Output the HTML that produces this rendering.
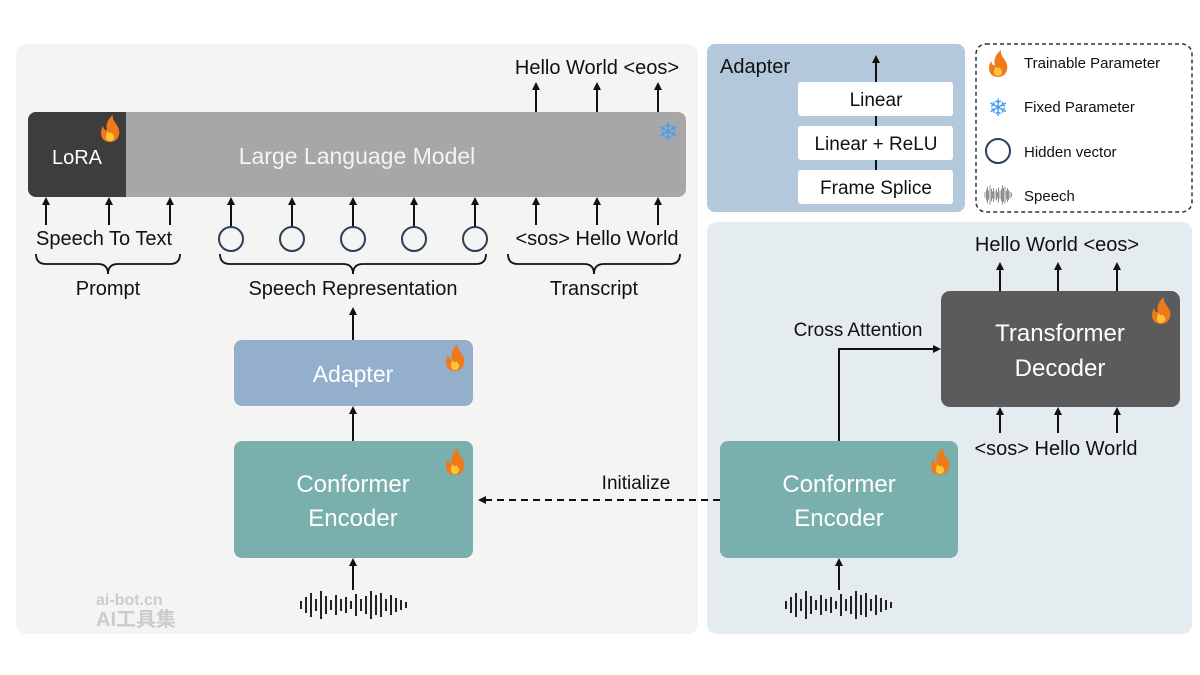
<!DOCTYPE html>
<html><head><meta charset="utf-8"><style>
body{margin:0;background:#fff}
svg{display:block;font-family:"Liberation Sans","DejaVu Sans",sans-serif}
</style></head><body>
<svg width="1200" height="675" viewBox="0 0 1200 675">
<defs>
<marker id="a" markerWidth="8" markerHeight="8" refX="6" refY="4" orient="auto" markerUnits="userSpaceOnUse"><path d="M0,0 L8,4 L0,8 z" fill="#111"/></marker>
<g id="fire"><path d="M0,14 C-9,14 -11,5 -7,-2 C-6,2 -4,3 -3,2 C-5,-4 -1,-10 3,-13 C2,-8 6,-5 8,-1 C11,4 9,14 0,14 z" fill="#f07a1a"/><path d="M0,13 C-5,13 -5,7 -2,3 C-1,6 1,6 1,4 C3,6 5,8 4,10 C3,12 2,13 0,13 z" fill="#fbc43b"/></g>
<g id="wave" stroke="#222" stroke-width="2">
<line x1="0" y1="-4" x2="0" y2="4"/><line x1="5" y1="-8" x2="5" y2="8"/><line x1="10" y1="-12" x2="10" y2="12"/><line x1="15" y1="-6" x2="15" y2="6"/><line x1="20" y1="-14" x2="20" y2="14"/><line x1="25" y1="-9" x2="25" y2="9"/><line x1="30" y1="-5" x2="30" y2="5"/><line x1="35" y1="-10" x2="35" y2="10"/><line x1="40" y1="-6" x2="40" y2="6"/><line x1="45" y1="-8" x2="45" y2="8"/><line x1="50" y1="-4" x2="50" y2="4"/><line x1="55" y1="-11" x2="55" y2="11"/><line x1="60" y1="-6" x2="60" y2="6"/><line x1="65" y1="-9" x2="65" y2="9"/><line x1="70" y1="-14" x2="70" y2="14"/><line x1="75" y1="-10" x2="75" y2="10"/><line x1="80" y1="-12" x2="80" y2="12"/><line x1="85" y1="-6" x2="85" y2="6"/><line x1="90" y1="-10" x2="90" y2="10"/><line x1="95" y1="-7" x2="95" y2="7"/><line x1="100" y1="-5" x2="100" y2="5"/><line x1="105" y1="-3" x2="105" y2="3"/>
</g>
</defs>
<!-- panels -->
<rect x="16" y="44" width="682" height="590" rx="10" fill="#f4f4f3"/>
<rect x="707" y="222" width="485" height="412" rx="10" fill="#e4ecf0"/>
<rect x="707" y="44" width="258" height="168" rx="8" fill="#b3c8da"/>
<rect x="976" y="44" width="216" height="168" rx="10" fill="#fff" stroke="#333" stroke-width="1.5" stroke-dasharray="4,3"/>

<!-- LLM -->
<rect x="28" y="112" width="658" height="85" rx="8" fill="#a7a7a7"/>
<path d="M36,112 H126 V197 H36 a8,8 0 0 1 -8,-8 V120 a8,8 0 0 1 8,-8 z" fill="#3d3d3d"/>
<text x="77" y="164" font-size="20" fill="#fff" text-anchor="middle">LoRA</text>
<use href="#fire" x="110" y="128"/>
<text x="357" y="164" font-size="23" fill="#f4f4f4" text-anchor="middle">Large Language Model</text>
<text x="668" y="140" font-size="24" fill="#4a9cf0" text-anchor="middle">❄</text>

<g stroke="#111" stroke-width="2" marker-end="url(#a)">
<line x1="46" y1="225" x2="46" y2="199"/><line x1="109" y1="225" x2="109" y2="199"/><line x1="170" y1="225" x2="170" y2="199"/>
<line x1="231" y1="227" x2="231" y2="199"/><line x1="292" y1="227" x2="292" y2="199"/><line x1="353" y1="227" x2="353" y2="199"/><line x1="414" y1="227" x2="414" y2="199"/><line x1="475" y1="227" x2="475" y2="199"/>
<line x1="536" y1="225" x2="536" y2="199"/><line x1="597" y1="225" x2="597" y2="199"/><line x1="658" y1="225" x2="658" y2="199"/>
<line x1="536" y1="112" x2="536" y2="84"/><line x1="597" y1="112" x2="597" y2="84"/><line x1="658" y1="112" x2="658" y2="84"/>
</g>
<g fill="none" stroke="#2d3e58" stroke-width="2">
<circle cx="231" cy="239" r="12"/><circle cx="292" cy="239" r="12"/><circle cx="353" cy="239" r="12"/><circle cx="414" cy="239" r="12"/><circle cx="475" cy="239" r="12"/>
</g>
<g font-size="20" fill="#111" text-anchor="middle">
<text x="597" y="74">Hello World &lt;eos&gt;</text>
<text x="104" y="245">Speech To  Text</text>
<text x="597" y="245">&lt;sos&gt; Hello World</text>
<text x="108" y="295">Prompt</text>
<text x="353" y="295">Speech Representation</text>
<text x="594" y="295">Transcript</text>
</g>
<g fill="none" stroke="#111" stroke-width="1.8">
<path d="M36,254 q0,10 10,10 h52 q10,0 10,10 q0,-10 10,-10 h52 q10,0 10,-10"/>
<path d="M220,254 q0,10 10,10 h113 q10,0 10,10 q0,-10 10,-10 h113 q10,0 10,-10"/>
<path d="M508,254 q0,10 10,10 h66 q10,0 10,10 q0,-10 10,-10 h66 q10,0 10,-10"/>
</g>

<!-- left stack -->
<rect x="234" y="340" width="239" height="66" rx="8" fill="#94afcb"/>
<text x="353" y="382" font-size="23" fill="#fff" text-anchor="middle">Adapter</text>
<use href="#fire" x="455" y="357"/>
<rect x="234" y="441" width="239" height="117" rx="8" fill="#79afad"/>
<text x="353" y="492" font-size="24" fill="#fff" text-anchor="middle">Conformer</text>
<text x="353" y="526" font-size="24" fill="#fff" text-anchor="middle">Encoder</text>
<use href="#fire" x="455" y="461"/>
<g stroke="#111" stroke-width="2" marker-end="url(#a)">
<line x1="353" y1="340" x2="353" y2="309"/>
<line x1="353" y1="441" x2="353" y2="408"/>
<line x1="353" y1="590" x2="353" y2="560"/>
<line x1="839" y1="590" x2="839" y2="560"/>
</g>
<use href="#wave" x="301" y="605"/>
<use href="#wave" x="786" y="605"/>

<!-- Initialize -->
<line x1="720" y1="500" x2="480" y2="500" stroke="#111" stroke-width="2" stroke-dasharray="7,5" marker-end="url(#a)"/>
<text x="636" y="489" font-size="19" fill="#111" text-anchor="middle">Initialize</text>

<!-- right -->
<rect x="720" y="441" width="238" height="117" rx="8" fill="#79afad"/>
<text x="839" y="492" font-size="24" fill="#fff" text-anchor="middle">Conformer</text>
<text x="839" y="526" font-size="24" fill="#fff" text-anchor="middle">Encoder</text>
<use href="#fire" x="940" y="461"/>
<rect x="941" y="291" width="239" height="116" rx="9" fill="#5b5b5b"/>
<text x="1060" y="341" font-size="24" fill="#fff" text-anchor="middle">Transformer</text>
<text x="1060" y="376" font-size="24" fill="#fff" text-anchor="middle">Decoder</text>
<use href="#fire" x="1161" y="310"/>
<path d="M839,441 V349 H939" fill="none" stroke="#111" stroke-width="2" marker-end="url(#a)"/>
<text x="858" y="336" font-size="19" fill="#111" text-anchor="middle">Cross Attention</text>
<g stroke="#111" stroke-width="2" marker-end="url(#a)">
<line x1="1000" y1="291" x2="1000" y2="264"/><line x1="1058" y1="291" x2="1058" y2="264"/><line x1="1117" y1="291" x2="1117" y2="264"/>
<line x1="1000" y1="433" x2="1000" y2="409"/><line x1="1058" y1="433" x2="1058" y2="409"/><line x1="1117" y1="433" x2="1117" y2="409"/>
</g>
<g font-size="20" fill="#111" text-anchor="middle">
<text x="1057" y="251">Hello World &lt;eos&gt;</text>
<text x="1056" y="455">&lt;sos&gt;  Hello World</text>
</g>

<!-- adapter detail -->
<text x="720" y="73" font-size="20" fill="#111">Adapter</text>
<line x1="876" y1="170" x2="876" y2="57" stroke="#111" stroke-width="2" marker-end="url(#a)"/>
<rect x="798" y="82" width="155" height="34" rx="3" fill="#fff"/>
<rect x="798" y="126" width="155" height="34" rx="3" fill="#fff"/>
<rect x="798" y="170" width="155" height="34" rx="3" fill="#fff"/>
<g font-size="19" fill="#111" text-anchor="middle">
<text x="876" y="106">Linear</text>
<text x="876" y="150">Linear + ReLU</text>
<text x="876" y="194">Frame Splice</text>
</g>

<!-- legend -->
<use href="#fire" x="998" y="63"/>
<text x="998" y="116" font-size="24" fill="#4a9cf0" text-anchor="middle">❄</text>
<circle cx="998" cy="151" r="12" fill="none" stroke="#2d3e58" stroke-width="2"/>
<g transform="translate(985,195) scale(0.25,0.7)"><use href="#wave"/></g>
<g font-size="15" fill="#111">
<text x="1024" y="68">Trainable Parameter</text>
<text x="1024" y="112">Fixed Parameter</text>
<text x="1024" y="157">Hidden vector</text>
<text x="1024" y="201">Speech</text>
</g>
<text x="96" y="605" font-size="16" fill="#ccc" font-weight="bold">ai-bot.cn</text>
<text x="96" y="626" font-size="20" fill="#ccc" font-weight="bold" font-family="Liberation Sans, Noto Sans CJK SC, sans-serif">AI工具集</text>
</svg>
</body></html>
